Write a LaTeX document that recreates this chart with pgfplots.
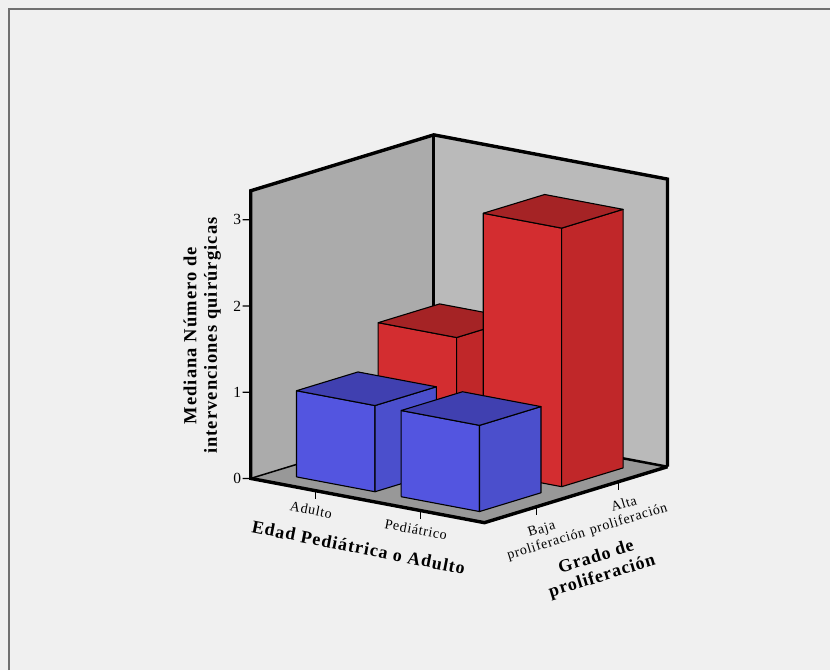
\documentclass[border=0pt]{standalone}
\usepackage{pgfplots}
\pgfplotsset{compat=1.18}
\usepackage{fontspec}
\setmainfont{Liberation Serif}
\newfontfamily\spacedserif[LetterSpace=5]{Liberation Serif}
\newfontfamily\spacedbold[LetterSpace=6]{Liberation Serif}
\definecolor{pagebg}{HTML}{F0F0F0}
\definecolor{frameline}{HTML}{707070}
\definecolor{wallL}{HTML}{ABABAB}
\definecolor{wallR}{HTML}{BABABA}
\definecolor{floorc}{HTML}{989898}
\definecolor{blueF}{HTML}{5355E0}
\definecolor{blueS}{HTML}{4B4FCC}
\definecolor{blueT}{HTML}{4040B0}
\definecolor{redF}{HTML}{D32D30}
\definecolor{redS}{HTML}{C02729}
\definecolor{redT}{HTML}{A52325}
% one 3D bar: x0, x1, y0, y1, height, front, side and top colours
\newcommand{\barbox}[8]{%
  \addplot3[fill=#6,draw=black,line width=1.1pt,line join=round] coordinates {(#1,#3,0) (#2,#3,0) (#2,#3,#5) (#1,#3,#5) (#1,#3,0)};
  \addplot3[fill=#7,draw=black,line width=1.1pt,line join=round] coordinates {(#2,#3,0) (#2,#4,0) (#2,#4,#5) (#2,#3,#5) (#2,#3,0)};
  \addplot3[fill=#8,draw=black,line width=1.1pt,line join=round] coordinates {(#1,#3,#5) (#2,#3,#5) (#2,#4,#5) (#1,#4,#5) (#1,#3,#5)};
}
\begin{document}
\begin{tikzpicture}[x=1pt,y=1pt]
\fill[pagebg] (0,0) rectangle (831,671);
\draw[frameline,line width=2pt] (9,0) -- (9,662) -- (831,662);
\begin{axis}[
  anchor=origin, at={(251pt,192pt)},
  x={(117pt,-22.15pt)}, y={(91.65pt,28pt)}, z={(0pt,86.3pt)},
  disabledatascaling, clip=false,
  xmin=0, xmax=2, ymin=0, ymax=2, zmin=0, zmax=3.337,
  axis line style={draw=none}, tick style={draw=none}, major tick length=0pt,
  xtick={0.553,1.45}, xticklabels={Adulto,Pediátrico},
  ytick={0.567,1.466}, yticklabels={{Baja\\proliferación},{Alta\\proliferación}},
  ztick={0,1,2,3},
  /pgf/number format/assume math mode=true,
  xticklabel style={font=\spacedserif\fontsize{14}{15}\selectfont,anchor=center,rotate=-11,xshift=-0.5pt,yshift=-19.5pt},
  yticklabel style={font=\spacedserif\fontsize{14}{15.5}\selectfont,anchor=center,align=center,rotate=17,xshift=-1.5pt,yshift=-31.5pt},
  zticklabel style={font=\fontsize{15.5}{15.5}\selectfont,anchor=east,xshift=-6pt},
  xlabel={Edad Pediátrica o Adulto}, ylabel={Grado de\\proliferación},
  zlabel={Mediana Número de\\intervenciones quirúrgicas},
  xlabel style={at={(axis cs:0.923,0,-0.563)},anchor=center,rotate=-11.2,font=\spacedbold\bfseries\fontsize{18}{20}\selectfont},
  ylabel style={at={(axis cs:2.983,0,-0.265)},anchor=center,rotate=17,align=center,font=\spacedserif\bfseries\fontsize{18}{20}\selectfont},
  zlabel style={at={(axis cs:-0.4145,0,1.55)},anchor=center,align=center,font=\spacedbold\bfseries\fontsize{18.5}{20.5}\selectfont},
]
% walls and floor
\addplot3[fill=wallL,draw=none] coordinates {(0,0,0) (0,2,0) (0,2,3.337) (0,0,3.337) (0,0,0)};
\addplot3[fill=wallR,draw=none] coordinates {(0,2,0) (2,2,0) (2,2,3.337) (0,2,3.337) (0,2,0)};
\addplot3[fill=floorc,draw=none] coordinates {(0,0,0) (2,0,0) (2,2,0) (0,2,0) (0,0,0)};
% box edges
\addplot3[draw=black,line width=1.5pt] coordinates {(0,0,0) (0,2,0)};
\addplot3[draw=black,line width=2.5pt] coordinates {(0,2,0) (2,2,0)};
\addplot3[draw=black,line width=3.4pt,line join=miter] coordinates {(2,2,0) (2,2,3.337) (0,2,3.337) (0,0,3.337) (0,0,0) (2,0,0) (2,2,0)};
\addplot3[draw=black,line width=3.4pt] coordinates {(0,2,0) (0,2,3.337)};
% tick marks
\addplot3[draw=black,line width=1.2pt] coordinates {(0,0,0) (-0.0422,-0.0334,0)};
\addplot3[draw=black,line width=1.2pt] coordinates {(0,0,1) (-0.0422,-0.0334,1)};
\addplot3[draw=black,line width=1.2pt] coordinates {(0,0,2) (-0.0422,-0.0334,2)};
\addplot3[draw=black,line width=1.2pt] coordinates {(0,0,3) (-0.0422,-0.0334,3)};
\addplot3[draw=black,line width=1pt] coordinates {(0.553,0,0) (0.553,0,-0.1)};
\addplot3[draw=black,line width=1pt] coordinates {(1.45,0,0) (1.45,0,-0.1)};
\addplot3[draw=black,line width=1pt] coordinates {(2,0.567,0) (2,0.567,-0.1)};
\addplot3[draw=black,line width=1pt] coordinates {(2,1.466,0) (2,1.466,-0.1)};
% bars, back row first
\barbox{0.216}{0.887}{1.117}{1.788}{1.5}{redF}{redS}{redT}
\barbox{1.115}{1.786}{1.117}{1.788}{3}{redF}{redS}{redT}
\barbox{0.216}{0.887}{0.225}{0.896}{1}{blueF}{blueS}{blueT}
\barbox{1.111}{1.782}{0.225}{0.896}{1}{blueF}{blueS}{blueT}
\end{axis}
\end{tikzpicture}
\end{document}
